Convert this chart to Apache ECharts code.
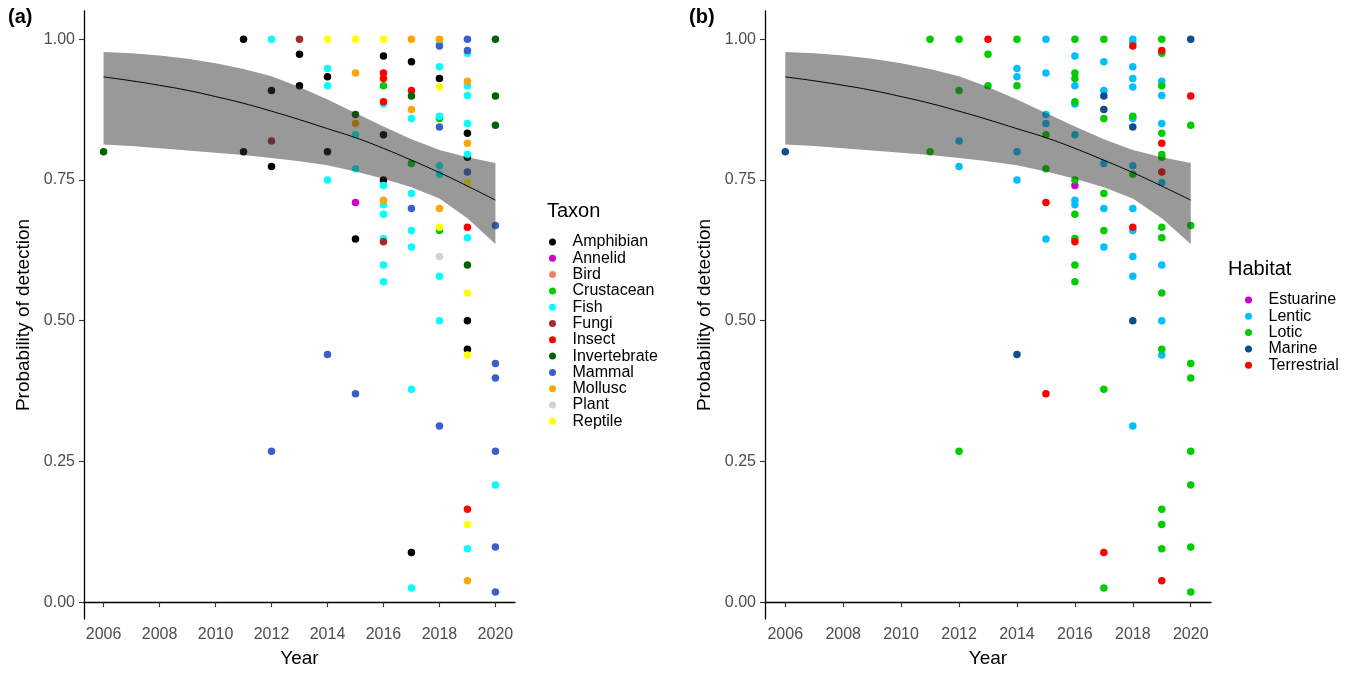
<!DOCTYPE html>
<html><head><meta charset="utf-8">
<script src="https://cdn.jsdelivr.net/npm/echarts@6/dist/echarts.min.js"></script>
<style>html,body{margin:0;padding:0;background:#fff}#c{width:1355px;height:673px}</style>
</head><body><div id="c"></div>
<script>
const FONT = "'Liberation Sans', Arial, Helvetica, sans-serif";

// ---------- tick labels ----------
const xTicks = [2006, 2008, 2010, 2012, 2014, 2016, 2018, 2020];
const yTicks = [0, 0.25, 0.5, 0.75, 1];

// ---------- fitted curve and confidence band ----------
const fitYears = [2006,2007,2008,2009,2010,2011,2012,2013,2014,2015,2016,2017,2018,2019,2020];
const fitLine  = [0.933,0.926,0.918,0.909,0.898,0.886,0.872,0.857,0.841,0.825,0.806,0.785,0.763,0.739,0.714];
const fitUpper = [0.977,0.975,0.971,0.965,0.957,0.947,0.934,0.915,0.893,0.869,0.845,0.822,0.803,0.790,0.780];
const fitLower = [0.813,0.810,0.806,0.802,0.798,0.794,0.789,0.783,0.776,0.765,0.752,0.737,0.717,0.682,0.636];

// ---------- panel (a): by taxon, [year, probability] ----------
const taxa = ['Amphibian','Annelid','Bird','Crustacean','Fish','Fungi','Insect','Invertebrate','Mammal','Mollusc','Plant','Reptile'];
const taxonColors = ['#000000','#CD00CD','#EE8262','#00CD00','#00FFFF','#A52A2A','#FF0000','#006400','#3A5FCD','#FFA500','#D3D3D3','#FFFF00'];
const amphibian = [[2011,1.00],[2011,0.80],[2012,0.909],[2012,0.774],[2013,0.973],[2013,0.917],[2014,0.933],[2014,0.80],[2015,0.645],[2016,0.97],[2016,0.83],[2016,0.75],[2017,0.96],[2017,0.088],[2018,0.93],[2019,0.833],[2019,0.79],[2019,0.50],[2019,0.449]];
const annelid = [[2015,0.71]];
const bird = [];
const crustacean = [[2016,0.917],[2017,0.779],[2018,0.859],[2018,0.66]];
const fish = [[2012,1.00],[2014,0.948],[2014,0.917],[2014,0.75],[2015,0.83],[2015,0.77],[2016,0.885],[2016,0.74],[2016,0.706],[2016,0.689],[2016,0.646],[2016,0.599],[2016,0.569],[2017,0.859],[2017,0.726],[2017,0.66],[2017,0.631],[2017,0.378],[2017,0.025],[2018,0.993],[2018,0.951],[2018,0.863],[2018,0.775],[2018,0.76],[2018,0.579],[2018,0.50],[2019,0.975],[2019,0.917],[2019,0.90],[2019,0.85],[2019,0.795],[2019,0.647],[2019,0.095],[2020,0.208]];
const fungi = [[2012,0.819],[2013,1.00],[2016,0.64]];
const insect = [[2016,0.94],[2016,0.93],[2016,0.889],[2017,0.909],[2019,0.666],[2019,0.165]];
const invertebrate = [[2006,0.80],[2015,0.866],[2017,0.899],[2019,0.599],[2020,1.00],[2020,0.899],[2020,0.847]];
const mammal = [[2012,0.268],[2014,0.44],[2015,0.37],[2017,0.699],[2018,0.988],[2018,0.844],[2018,0.313],[2019,1.00],[2019,0.98],[2019,0.764],[2020,0.669],[2020,0.424],[2020,0.398],[2020,0.268],[2020,0.098],[2020,0.018]];
const mollusc = [[2015,0.94],[2015,0.85],[2016,0.714],[2017,1.00],[2017,0.875],[2018,1.00],[2018,0.699],[2019,0.925],[2019,0.815],[2019,0.038]];
const plant = [[2018,0.614]];
const reptile = [[2014,1.00],[2015,1.00],[2016,1.00],[2018,0.915],[2018,0.666],[2019,0.745],[2019,0.549],[2019,0.439],[2019,0.138]];
const taxonData = [amphibian, annelid, bird, crustacean, fish, fungi, insect, invertebrate, mammal, mollusc, plant, reptile];

// ---------- panel (b): by habitat, [year, probability] ----------
const habitats = ['Estuarine','Lentic','Lotic','Marine','Terrestrial'];
const habitatColors = ['#CD00CD','#00BFFF','#00CD00','#104E8B','#FF0000'];
const estuarine = [[2016,0.74]];
const lentic = [[2012,0.819],[2012,0.774],[2014,0.948],[2014,0.933],[2014,0.80],[2014,0.75],[2015,1.00],[2015,0.94],[2015,0.866],[2015,0.85],[2015,0.645],[2016,0.97],[2016,0.917],[2016,0.885],[2016,0.83],[2016,0.714],[2016,0.706],[2017,0.96],[2017,0.909],[2017,0.779],[2017,0.699],[2017,0.631],[2018,1.00],[2018,0.993],[2018,0.951],[2018,0.93],[2018,0.915],[2018,0.859],[2018,0.775],[2018,0.699],[2018,0.66],[2018,0.614],[2018,0.579],[2018,0.313],[2019,0.925],[2019,0.90],[2019,0.85],[2019,0.745],[2019,0.599],[2019,0.50],[2019,0.439]];
const lotic = [[2011,1.00],[2011,0.80],[2012,1.00],[2012,0.909],[2012,0.268],[2013,0.973],[2013,0.917],[2014,1.00],[2014,0.917],[2015,0.83],[2015,0.77],[2016,1.00],[2016,0.94],[2016,0.93],[2016,0.889],[2016,0.75],[2016,0.689],[2016,0.646],[2016,0.599],[2016,0.569],[2017,1.00],[2017,0.859],[2017,0.726],[2017,0.66],[2017,0.378],[2017,0.025],[2018,0.863],[2018,0.76],[2019,1.00],[2019,0.975],[2019,0.917],[2019,0.833],[2019,0.795],[2019,0.79],[2019,0.666],[2019,0.647],[2019,0.549],[2019,0.449],[2019,0.165],[2019,0.138],[2019,0.095],[2020,0.847],[2020,0.669],[2020,0.424],[2020,0.398],[2020,0.268],[2020,0.208],[2020,0.098],[2020,0.018]];
const marine = [[2006,0.80],[2014,0.44],[2017,0.899],[2017,0.875],[2018,0.844],[2018,0.50],[2020,1.00]];
const terrestrial = [[2013,1.00],[2015,0.71],[2015,0.37],[2016,0.64],[2017,0.088],[2018,0.988],[2018,0.666],[2019,0.98],[2019,0.815],[2019,0.764],[2019,0.038],[2020,0.899]];
const habitatData = [estuarine, lentic, lotic, marine, terrestrial];

// ---------- build chart ----------
const chart = echarts.init(document.getElementById('c'), null, {renderer: 'canvas'});

function makeX(gi) {
  return {
    gridIndex: gi, type: 'value', min: 2005.3, max: 2020.7,
    name: 'Year', nameLocation: 'middle', nameGap: 30,
    nameTextStyle: {fontSize: 19, color: '#000', fontFamily: FONT},
    axisLine: {show: true, lineStyle: {color: '#000', width: 1.3}},
    axisTick: {show: true, length: 5, lineStyle: {color: '#333', width: 1.1}, customValues: xTicks},
    axisLabel: {customValues: xTicks, color: '#4D4D4D', fontSize: 16, margin: 8, fontFamily: FONT,
      formatter: v => String(Math.round(v))},
    splitLine: {show: false}
  };
}
function makeY(gi) {
  return {
    gridIndex: gi, type: 'value', min: -0.03, max: 1.05,
    name: 'Probability of detection', nameLocation: 'middle', nameGap: 51, nameRotate: 90,
    nameTextStyle: {fontSize: 19, color: '#000', fontFamily: FONT},
    axisLine: {show: true, lineStyle: {color: '#000', width: 1.3}},
    axisTick: {show: true, length: 5, lineStyle: {color: '#333', width: 1.1}, customValues: yTicks},
    axisLabel: {customValues: yTicks, color: '#4D4D4D', fontSize: 16, margin: 9, fontFamily: FONT,
      formatter: v => Number(v).toFixed(2)},
    splitLine: {show: false}
  };
}
function bandSeries(gi) {
  return {
    type: 'custom', xAxisIndex: gi, yAxisIndex: gi, silent: true, z: 3, clip: false,
    data: [[fitYears[0], fitLine[0]]],
    renderItem: function (params, api) {
      const pts = [];
      for (let i = 0; i < fitYears.length; i++) pts.push(api.coord([fitYears[i], fitUpper[i]]));
      for (let i = fitYears.length - 1; i >= 0; i--) pts.push(api.coord([fitYears[i], fitLower[i]]));
      return {type: 'polygon', shape: {points: pts}, style: {fill: 'rgba(51,51,51,0.5)'}};
    }
  };
}
function lineSeries(gi) {
  return {
    type: 'line', xAxisIndex: gi, yAxisIndex: gi, silent: true, z: 4,
    data: fitYears.map((y, i) => [y, fitLine[i]]),
    symbol: 'none', smooth: true,
    lineStyle: {color: '#000', width: 1}
  };
}

const series = [];
taxa.forEach((t, i) => series.push({
  type: 'scatter', name: t, xAxisIndex: 0, yAxisIndex: 0, data: taxonData[i],
  symbol: 'circle', symbolSize: 7.5, z: 2, silent: true, itemStyle: {color: taxonColors[i], opacity: 1}
}));
habitats.forEach((h, i) => series.push({
  type: 'scatter', name: h, xAxisIndex: 1, yAxisIndex: 1, data: habitatData[i],
  symbol: 'circle', symbolSize: 7.5, z: 2, silent: true, itemStyle: {color: habitatColors[i], opacity: 1}
}));
series.push(bandSeries(0), lineSeries(0), bandSeries(1), lineSeries(1));

const legendCommon = {
  orient: 'vertical', icon: 'circle', itemWidth: 30, itemHeight: 7, itemGap: 0.3,
  selectedMode: false,
  textStyle: {fontSize: 16, color: '#000', fontFamily: FONT, lineHeight: 16, padding: [0, 0, 0, 0]}
};

chart.setOption({
  animation: false,
  backgroundColor: '#fff',
  grid: [
    {left: 84, top: 11, width: 431, height: 608},
    {left: 765, top: 11, width: 446, height: 608}
  ],
  xAxis: [makeX(0), makeX(1)],
  yAxis: [makeY(0), makeY(1)],
  legend: [
    Object.assign({}, legendCommon, {data: taxa, left: 544, top: 229}),
    Object.assign({}, legendCommon, {data: habitats, left: 1240, top: 287})
  ],
  graphic: [
    {type: 'text', left: 8, top: 7, style: {text: '(a)', font: 'bold 20px ' + FONT, fill: '#000'}},
    {type: 'text', left: 689, top: 7, style: {text: '(b)', font: 'bold 20px ' + FONT, fill: '#000'}},
    {type: 'text', left: 547, top: 201, style: {text: 'Taxon', font: '20px ' + FONT, fill: '#000'}},
    {type: 'text', left: 1228, top: 259, style: {text: 'Habitat', font: '20px ' + FONT, fill: '#000'}}
  ],
  series: series
});
</script>
</body></html>
